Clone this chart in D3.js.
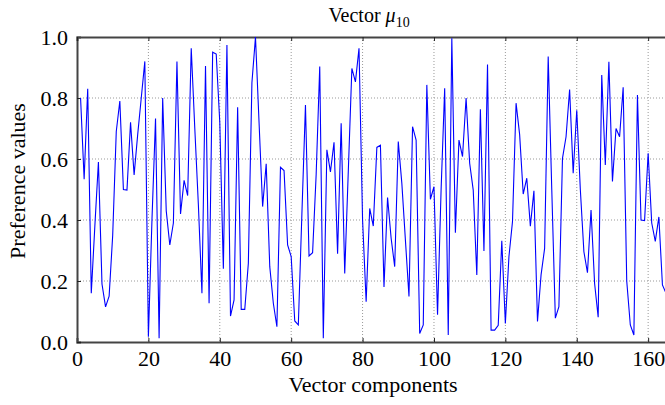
<!DOCTYPE html>
<html>
<head>
<meta charset="utf-8">
<script src="https://cdn.jsdelivr.net/npm/d3@7"></script>
<style>
  body { margin: 0; background: #fff; }
  svg { display: block; font-family: "Liberation Serif", "DejaVu Serif", serif; }
</style>
</head>
<body>
<div id="chart"></div>
<script>
// DATA //
// preference value of each vector component (index 1..165)
const prefValues = [
  0.80, 0.534, 0.83, 0.16, 0.38, 0.59, 0.19, 0.115, 0.15, 0.35,
  0.69, 0.79, 0.50, 0.498, 0.72, 0.548, 0.68, 0.80, 0.92, 0.017,
  0.40, 0.733, 0.012, 0.80, 0.43, 0.318, 0.39, 0.92, 0.42, 0.53,
  0.48, 0.963, 0.70, 0.45, 0.16, 0.905, 0.127, 0.95, 0.944, 0.72,
  0.24, 0.974, 0.085, 0.138, 0.77, 0.107, 0.107, 0.258, 0.85, 1.0,
  0.72, 0.444, 0.584, 0.247, 0.127, 0.05, 0.573, 0.562, 0.318, 0.28,
  0.069, 0.056, 0.42, 0.777, 0.282, 0.293, 0.55, 0.903, 0.012, 0.63,
  0.558, 0.655, 0.289, 0.717, 0.225, 0.56, 0.897, 0.853, 0.963, 0.40,
  0.132, 0.438, 0.38, 0.638, 0.645, 0.18, 0.474, 0.34, 0.247, 0.657,
  0.52, 0.334, 0.149, 0.706, 0.662, 0.028, 0.056, 0.843, 0.468, 0.509,
  0.089, 0.50, 0.832, 0.023, 0.996, 0.358, 0.662, 0.608, 0.80, 0.586,
  0.498, 0.22, 0.763, 0.298, 0.91, 0.039, 0.039, 0.055, 0.332, 0.061,
  0.28, 0.395, 0.783, 0.68, 0.485, 0.537, 0.38, 0.496, 0.067, 0.22,
  0.307, 0.936, 0.50, 0.078, 0.116, 0.602, 0.673, 0.828, 0.553, 0.76,
  0.50, 0.296, 0.227, 0.433, 0.192, 0.081, 0.875, 0.58, 0.919, 0.526,
  0.70, 0.673, 0.835, 0.20, 0.056, 0.023, 0.81, 0.40, 0.398, 0.619,
  0.39, 0.33, 0.41, 0.187, 0.16
]
const xTickValues = [0, 20, 40, 60, 80, 100, 120, 140, 160]
const yTickValues = [0, 0.2, 0.4, 0.6, 0.8, 1.0]

// Set dimensions
let dimensions = {
    width: 665,
    height: 405,
    margin: { top: 37, right: -1, bottom: 63, left: 77 },
}
dimensions.boundedWidth = dimensions.width - dimensions.margin.left - dimensions.margin.right
dimensions.boundedHeight = dimensions.height - dimensions.margin.top - dimensions.margin.bottom

const dataset = prefValues.map((v, i) => ({ index: i + 1, value: v }))

// Create scales
const xScale = d3.scaleLinear()
    .domain([0, 165])
    .range([0, dimensions.boundedWidth])

const yScale = d3.scaleLinear()
    .domain([0, 1])
    .range([dimensions.boundedHeight, 0])

const svg = d3.select("#chart")
    .append("svg")
    .attr("width", dimensions.width)
    .attr("height", dimensions.height)

const bounds = svg.append("g")
    .attr("transform", `translate(${dimensions.margin.left},${dimensions.margin.top})`)

// grid lines
bounds.append("g")
    .selectAll("line")
    .data(xTickValues.slice(1))
    .join("line")
    .attr("x1", d => xScale(d))
    .attr("x2", d => xScale(d))
    .attr("y1", 0)
    .attr("y2", dimensions.boundedHeight)
    .attr("stroke", "#999")
    .attr("stroke-width", 1)
    .attr("stroke-dasharray", "1,2")

bounds.append("g")
    .selectAll("line")
    .data(yTickValues.slice(1, -1))
    .join("line")
    .attr("x1", 0)
    .attr("x2", dimensions.boundedWidth)
    .attr("y1", d => yScale(d))
    .attr("y2", d => yScale(d))
    .attr("stroke", "#999")
    .attr("stroke-width", 1)
    .attr("stroke-dasharray", "1,2")

// axes
const xAxisGenerator = d3.axisBottom(xScale)
    .tickValues(xTickValues)
    .tickSize(-4)
    .tickPadding(8)
    .tickFormat(d3.format("d"))

const yAxisGenerator = d3.axisLeft(yScale)
    .tickValues(yTickValues)
    .tickSize(-4)
    .tickPadding(9)
    .tickFormat(d3.format(".1f"))

const xAxis = bounds.append("g")
    .attr("transform", `translate(0,${dimensions.boundedHeight})`)
    .call(xAxisGenerator)

const yAxis = bounds.append("g")
    .call(yAxisGenerator)

const topAxis = bounds.append("g")
    .call(d3.axisTop(xScale).tickValues(xTickValues).tickSize(-4).tickFormat(""))

;[xAxis, yAxis, topAxis].forEach(a => {
    a.select(".domain").attr("stroke", "#444").attr("stroke-width", 2)
    a.selectAll(".tick line").attr("stroke", "#222")
    a.selectAll("text")
        .attr("fill", "#000")
        .style("font-family", "Liberation Serif, serif")
        .style("font-size", "22px")
})

// line
const lineGenerator = d3.line()
    .x(d => xScale(d.index))
    .y(d => yScale(d.value))

bounds.append("path")
    .datum(dataset)
    .attr("fill", "none")
    .attr("stroke", "#0000ff")
    .attr("stroke-width", 1.1)
    .attr("d", lineGenerator)

// labels
const title = svg.append("text")
    .attr("x", 369)
    .attr("y", 22)
    .attr("text-anchor", "middle")
    .style("font-size", "20px")
title.append("tspan").text("Vector ")
title.append("tspan").style("font-style", "italic").text("μ")
title.append("tspan").attr("dy", 5).style("font-size", "14px").text("10")

svg.append("text")
    .attr("x", 373)
    .attr("y", 392)
    .attr("text-anchor", "middle")
    .style("font-size", "22px")
    .text("Vector components")

svg.append("text")
    .attr("transform", `translate(25,181) rotate(-90)`)
    .attr("text-anchor", "middle")
    .style("font-size", "22px")
    .text("Preference values")
</script>
</body>
</html>
